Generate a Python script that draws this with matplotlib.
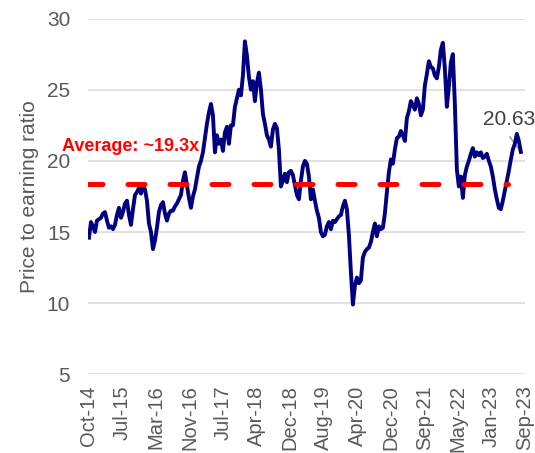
import numpy as np
import matplotlib
matplotlib.use("Agg")
import matplotlib.pyplot as plt

plt.rcParams['font.family'] = ['Liberation Sans', 'DejaVu Sans']

# P/E ratio, evenly spaced samples from Oct-14 to Sep-23
pe_part1 = [14.6, 15.7, 15.4, 15.0, 15.8, 15.9, 16.0, 16.3, 16.4, 15.8, 15.3, 15.4,
            15.2, 15.5, 16.2, 16.7, 16.0, 16.4, 17.0, 17.2, 16.2, 15.5, 16.6, 17.6,
            17.8, 18.1, 17.7, 18.2, 18.0, 17.2, 15.6, 15.0, 13.8, 14.4, 15.3, 16.4,
            16.9, 17.1, 16.3, 15.8, 16.3, 16.5, 16.5, 16.8, 17.0, 17.3, 17.6, 18.6,
            19.2, 18.3, 17.4, 16.7, 17.5, 18.0, 18.8, 19.6, 20.0, 20.6, 21.6, 22.6,
            23.4, 24.0, 23.2, 20.6, 21.8, 21.2, 21.5, 20.7, 22.0, 22.4, 21.2, 22.5]
pe_part2 = [22.5, 23.8, 24.4, 25.0, 24.6, 26.0, 28.4, 27.4, 25.9, 25.0, 25.6, 24.2,
            25.5, 26.2, 25.0, 23.3, 22.6, 21.8, 21.5, 21.0, 22.2, 22.6, 22.3, 20.8,
            18.2, 18.6, 19.1, 18.5, 19.2, 19.3, 19.0, 18.3, 17.6, 17.3, 18.6, 19.6,
            20.0, 19.8, 18.9, 17.3, 18.0, 17.2, 16.5, 16.0, 15.0, 14.7, 14.8, 15.4,
            15.7, 15.2, 15.8, 15.7, 15.9, 16.1, 16.2, 16.8, 17.2, 16.6, 14.8, 12.2,
            9.9, 11.2, 11.8, 11.4, 11.6, 13.2, 13.6, 13.8, 13.9, 14.3, 15.0, 15.6]
pe_part3 = [14.7, 15.4, 15.2, 15.3, 16.3, 17.8, 19.2, 20.1, 19.8, 20.8, 21.6, 21.7,
            22.1, 21.8, 21.4, 23.0, 23.5, 24.2, 23.9, 23.6, 24.4, 24.0, 23.2, 23.6,
            25.3, 26.1, 27.0, 26.6, 26.5, 26.0, 25.8, 26.6, 27.8, 28.3, 26.5, 23.8,
            25.2, 26.9, 27.5, 24.0, 19.4, 18.2, 18.9, 17.4, 19.0, 19.6, 20.0, 20.5,
            20.9, 20.3, 20.6, 20.4, 20.6, 20.2, 20.3, 20.5, 20.0, 19.6, 18.9, 18.0,
            17.3, 16.7, 16.6, 17.2, 17.9, 18.6, 19.3, 20.1, 20.8, 21.2, 21.9, 21.4,
            20.63]
pe_values = pe_part1 + pe_part2 + pe_part3

tick_labels = ["Oct-14", "Jul-15", "Mar-16", "Nov-16", "Jul-17", "Apr-18", "Dec-18",
               "Aug-19", "Apr-20", "Dec-20", "Sep-21", "May-22", "Jan-23", "Sep-23"]
average_value = 18.38
average_label = "Average: ~19.3x"
last_label = "20.63"

x = np.arange(len(pe_values))
x_right = 218.0
tick_pos = np.linspace(0, x_right, len(tick_labels))

fig = plt.figure(figsize=(5.35, 4.53), dpi=100)
ax = fig.add_axes([0.165, 0.1737, 0.816, 0.7853])

ax.set_ylim(5, 30)
ax.set_xlim(-0.35, x_right)
ax.set_yticks([5, 10, 15, 20, 25, 30])
ax.yaxis.grid(True, color='#d9d9d9', linewidth=1.1)
ax.set_axisbelow(True)
for s in ax.spines.values():
    s.set_visible(False)

ax.plot(x, pe_values, color='#000080', linewidth=2.8, solid_joinstyle='round', zorder=3)
ax.plot([-0.35, 209.75], [average_value, average_value], color='#ff0000', linewidth=3.6,
        linestyle=(0.5, (3.4, 5.0)), dash_capstyle='round', zorder=4)

ax.set_xticks(tick_pos)
ax.set_xticklabels(tick_labels, rotation=90, fontsize=14.5, color='#595959')
ax.tick_params(axis='both', length=0)
ax.tick_params(axis='x', pad=8)
ax.tick_params(axis='y', pad=13, labelsize=15, labelcolor='#595959')
ax.set_ylabel("Price to earning ratio", fontsize=15, color='#595959', labelpad=6)

ax.text(-13.5, 21.0, average_label, color='#ff0000', fontsize=13, fontweight='bold',
        va='center', ha='left', clip_on=False, zorder=5)

ax.text(197, 22.9, last_label, fontsize=15, color='#404040', ha='left', va='center',
        clip_on=False, zorder=5)
ax.plot([210.5, x[-1]], [21.68, pe_values[-1]], color='#a6a6a6', linewidth=1.2, zorder=2)

fig.savefig("out.png", dpi=100)
